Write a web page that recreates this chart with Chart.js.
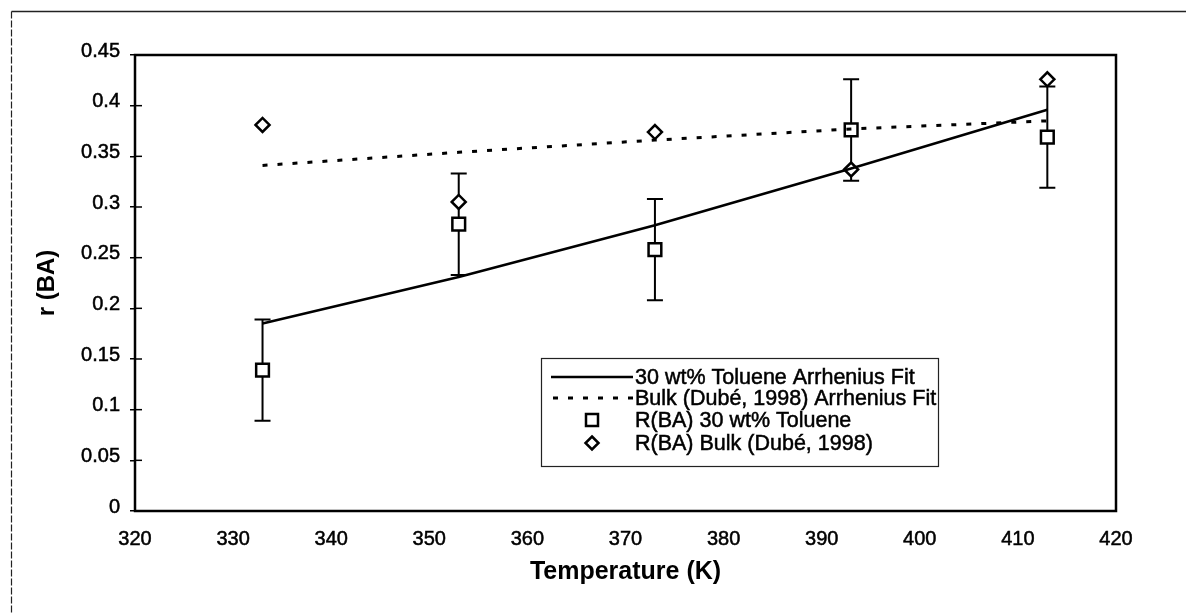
<!DOCTYPE html>
<html>
<head>
<meta charset="utf-8">
<title>r (BA) vs Temperature</title>
<script src="https://cdn.jsdelivr.net/npm/chart.js@4"></script>
<style>
  html, body { margin: 0; padding: 0; background: #fff; }
  canvas { display: block; }
</style>
</head>
<body>
<canvas id="rateChart" width="1186" height="614"></canvas>
<script>
// temperatures (K)
const temps = [333, 353, 373, 393, 413];
// measured r(BA), 30 wt% toluene, with error bars
const tolueneRate = [0.139, 0.283, 0.258, 0.376, 0.369];
const tolueneErr = [0.05, 0.05, 0.05, 0.05, 0.05];
// bulk r(BA) from Dubé, 1998
const bulkRate = [0.381, 0.305, 0.374, 0.337, 0.426];
// Arrhenius fits evaluated at the same temperatures
const tolueneFit = [0.185, 0.231, 0.282, 0.338, 0.396];
const bulkFit = [0.341, 0.354, 0.366, 0.377, 0.385];

const xTicks = [320, 330, 340, 350, 360, 370, 380, 390, 400, 410, 420];
const yTicks = [0, 0.05, 0.1, 0.15, 0.2, 0.25, 0.3, 0.35, 0.4, 0.45];

const legendLabels = [
    '30 wt% Toluene Arrhenius Fit',
    'Bulk (Dubé, 1998) Arrhenius Fit',
    'R(BA) 30 wt% Toluene',
    'R(BA) Bulk (Dubé, 1998)'
];

const FONT = '"Liberation Sans", Arial, sans-serif';

function toPoints(ys) {
    return temps.map((t, i) => ({ x: t, y: ys[i] }));
}

// white page plus the outer frame around the figure
const framePlugin = {
    id: 'frame',
    beforeDraw(chart) {
        const ctx = chart.ctx;
        ctx.save();
        ctx.fillStyle = '#fff';
        ctx.fillRect(0, 0, chart.width, chart.height);
        ctx.strokeStyle = '#222';
        ctx.lineWidth = 1.5;
        ctx.beginPath();
        ctx.moveTo(chart.width, 11.5);
        ctx.lineTo(11.5, 11.5);
        ctx.stroke();
        ctx.setLineDash([7, 2]);
        ctx.lineWidth = 1.2;
        ctx.beginPath();
        ctx.moveTo(11.5, 11.5);
        ctx.lineTo(11.5, chart.height);
        ctx.stroke();
        ctx.restore();
    }
};

// vertical error bars for the toluene series
const errorBarPlugin = {
    id: 'errorBars',
    beforeDatasetsDraw(chart) {
        const ctx = chart.ctx;
        const xs = chart.scales.x, ys = chart.scales.y;
        ctx.save();
        ctx.strokeStyle = '#000';
        ctx.lineWidth = 2;
        temps.forEach((t, i) => {
            const px = xs.getPixelForValue(t);
            const top = ys.getPixelForValue(tolueneRate[i] + tolueneErr[i]);
            const bot = ys.getPixelForValue(tolueneRate[i] - tolueneErr[i]);
            ctx.beginPath();
            ctx.moveTo(px, top); ctx.lineTo(px, bot);
            ctx.moveTo(px - 8, top); ctx.lineTo(px + 8, top);
            ctx.moveTo(px - 8, bot); ctx.lineTo(px + 8, bot);
            ctx.stroke();
        });
        ctx.restore();
    }
};

// plot-area box, inner y ticks and the boxed legend
const boxPlugin = {
    id: 'plotBox',
    afterDraw(chart) {
        const ctx = chart.ctx;
        const a = chart.chartArea;
        const ys = chart.scales.y;
        ctx.save();
        ctx.strokeStyle = '#000';
        ctx.lineWidth = 2.5;
        ctx.strokeRect(a.left, a.top, a.right - a.left, a.bottom - a.top);

        ctx.lineWidth = 1.5;
        yTicks.forEach(v => {
            const py = ys.getPixelForValue(v);
            ctx.beginPath();
            ctx.moveTo(a.left, py); ctx.lineTo(a.left + 7, py);
            ctx.stroke();
        });

        // legend
        const lx = 541, ly = 358, lw = 397, lh = 108;
        ctx.lineWidth = 1.2;
        ctx.strokeStyle = '#222';
        ctx.strokeRect(lx + 0.5, ly + 0.5, lw, lh);

        const rows = [377, 398, 420, 443];
        const textX = 635, markX = 592;
        ctx.fillStyle = '#000';
        ctx.strokeStyle = '#000';
        ctx.font = '21.5px ' + FONT;
        ctx.textBaseline = 'middle';
        ctx.textAlign = 'left';
        ctx.lineWidth = 0.5;
        legendLabels.forEach((txt, i) => {
            ctx.fillText(txt, textX, rows[i] + 1);
            ctx.strokeText(txt, textX, rows[i] + 1);
        });

        ctx.lineWidth = 2.5;
        ctx.beginPath();
        ctx.moveTo(551, rows[0]); ctx.lineTo(633, rows[0]);
        ctx.stroke();
        ctx.lineWidth = 3;
        ctx.setLineDash([5, 10]);
        ctx.beginPath();
        ctx.moveTo(553, rows[1]); ctx.lineTo(636, rows[1]);
        ctx.stroke();
        ctx.setLineDash([]);

        ctx.lineWidth = 2.5;
        ctx.fillStyle = '#fff';
        ctx.beginPath();
        ctx.rect(markX - 6, rows[2] - 6, 12, 12);
        ctx.fill(); ctx.stroke();
        ctx.beginPath();
        ctx.moveTo(markX, rows[3] - 6.5);
        ctx.lineTo(markX + 6.5, rows[3]);
        ctx.lineTo(markX, rows[3] + 6.5);
        ctx.lineTo(markX - 6.5, rows[3]);
        ctx.closePath();
        ctx.fill(); ctx.stroke();
        ctx.restore();
    }
};

const ctx = document.getElementById('rateChart').getContext('2d');

new Chart(ctx, {
    type: 'scatter',
    data: {
        datasets: [
            {
                label: legendLabels[0],
                data: toPoints(tolueneFit),
                showLine: true,
                borderColor: '#000',
                borderWidth: 2.5,
                pointRadius: 0,
                fill: false
            },
            {
                label: legendLabels[1],
                data: toPoints(bulkFit),
                showLine: true,
                borderColor: '#000',
                borderWidth: 3,
                borderDash: [5, 10],
                pointRadius: 0,
                fill: false
            },
            {
                label: legendLabels[2],
                data: toPoints(tolueneRate),
                pointStyle: 'rect',
                pointRadius: 9,
                pointBorderWidth: 2.5,
                pointBackgroundColor: '#fff',
                pointBorderColor: '#000',
                showLine: false
            },
            {
                label: legendLabels[3],
                data: toPoints(bulkRate),
                pointStyle: 'rectRot',
                pointRadius: 7,
                pointBorderWidth: 2.5,
                pointBackgroundColor: '#fff',
                pointBorderColor: '#000',
                showLine: false
            }
        ]
    },
    options: {
        responsive: false,
        animation: false,
        layout: { padding: { left: 20, top: 55, right: 70, bottom: 0 } },
        plugins: {
            legend: { display: false },
            tooltip: { enabled: false }
        },
        scales: {
            x: {
                type: 'linear',
                min: 320,
                max: 420,
                afterBuildTicks: s => { s.ticks = xTicks.map(v => ({ value: v })); },
                afterFit: s => { s.height = 103; },
                grid: { display: false, drawTicks: false },
                border: { display: false },
                ticks: {
                    color: '#000',
                    padding: 16,
                    textStrokeColor: '#000',
                    textStrokeWidth: 0.5,
                    font: { family: FONT, size: 20 }
                },
                title: {
                    display: true,
                    text: 'Temperature (K)',
                    color: '#000',
                    font: { family: FONT, size: 25, weight: 'bold' },
                    padding: { bottom: 27 }
                }
            },
            y: {
                type: 'linear',
                min: 0,
                max: 0.45,
                afterBuildTicks: s => { s.ticks = yTicks.map(v => ({ value: v })); },
                afterFit: s => { s.width = 115; },
                grid: {
                    drawOnChartArea: false,
                    drawTicks: true,
                    tickLength: 5,
                    color: '#000',
                    lineWidth: 1.5
                },
                border: { display: false },
                ticks: {
                    color: '#000',
                    padding: 10,
                    labelOffset: -4,
                    textStrokeColor: '#000',
                    textStrokeWidth: 0.5,
                    font: { family: FONT, size: 20 },
                    callback: v => String(Math.round(v * 100) / 100)
                },
                title: {
                    display: true,
                    text: 'r (BA)',
                    color: '#000',
                    font: { family: FONT, size: 24, weight: 'bold' },
                    padding: { top: 13 }
                }
            }
        }
    },
    plugins: [framePlugin, errorBarPlugin, boxPlugin]
});
</script>
</body>
</html>
